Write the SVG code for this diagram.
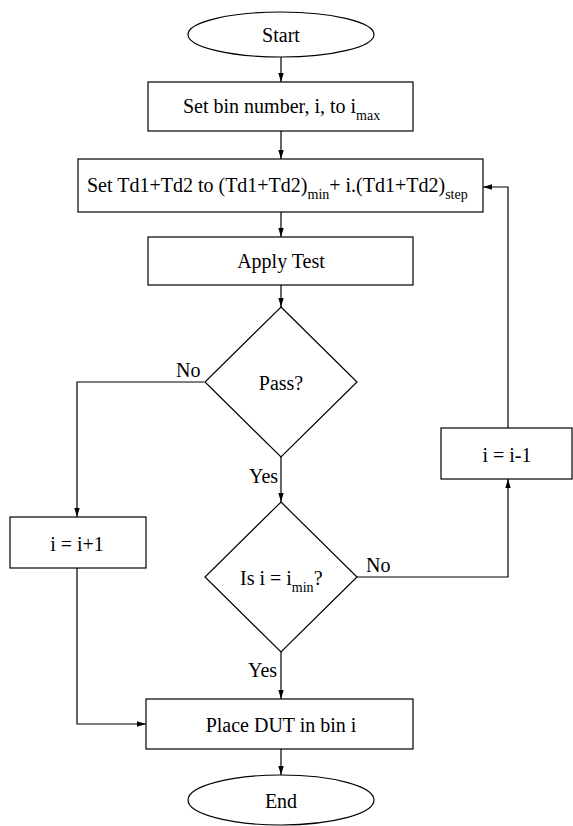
<svg xmlns="http://www.w3.org/2000/svg" width="573" height="826" viewBox="0 0 573 826">
<style>
.s{fill:#fff;stroke:#000;stroke-width:1.2}
.c{fill:none;stroke:#000;stroke-width:1.2}
text{font-family:"Liberation Serif","Times New Roman",serif;font-size:20px;fill:#000}
.m{text-anchor:middle}
.sub{font-size:14px}
</style>
<defs>
<marker id="a" viewBox="0 0 10 10" refX="10" refY="5" markerWidth="9" markerHeight="9" markerUnits="userSpaceOnUse" orient="auto">
<path d="M0,2 L10,5 L0,8 z" fill="#000"/>
</marker>
</defs>
<g id="connectors">
<path class="c" d="M281,57 V82" marker-end="url(#a)"/>
<path class="c" d="M281,131 V159" marker-end="url(#a)"/>
<path class="c" d="M281,212 V237" marker-end="url(#a)"/>
<path class="c" d="M281,285 V307" marker-end="url(#a)"/>
<path class="c" d="M281,457 V502" marker-end="url(#a)"/>
<path class="c" d="M204,382 H77 V517" marker-end="url(#a)"/>
<path class="c" d="M77,568 V724 H146" marker-end="url(#a)"/>
<path class="c" d="M281,652 V699" marker-end="url(#a)"/>
<path class="c" d="M281,749 V775" marker-end="url(#a)"/>
<path class="c" d="M357,577 H508 V479" marker-end="url(#a)"/>
<path class="c" d="M508,428 V187 H483" marker-end="url(#a)"/>
<text x="176" y="377">No</text>
<text x="249" y="483">Yes</text>
<text x="366" y="572">No</text>
<text x="248" y="677">Yes</text>
</g>
<g id="start">
<ellipse class="s" cx="281" cy="34.5" rx="93" ry="22.5"/>
<text class="m" x="281" y="42">Start</text>
</g>
<g id="setbin">
<rect class="s" x="148" y="82" width="265" height="49"/>
<text x="183" y="113">Set bin number, i, to i<tspan class="sub" dy="7">max</tspan></text>
</g>
<g id="settd">
<rect class="s" x="78" y="159" width="405" height="53"/>
<text x="87" y="192">Set Td1+Td2 to (Td1+Td2)<tspan class="sub" dy="7">min</tspan><tspan dy="-7">+ i.(Td1+Td2)</tspan><tspan class="sub" dy="7">step</tspan></text>
</g>
<g id="apply">
<rect class="s" x="148" y="237" width="265" height="48"/>
<text class="m" x="281" y="268">Apply Test</text>
</g>
<g id="pass">
<path class="s" d="M281,307 L357,382 L281,457 L205,382 z"/>
<text class="m" x="281" y="390">Pass?</text>
</g>
<g id="ismin">
<path class="s" d="M281,502 L357,577 L281,652 L205,577 z"/>
<text x="240" y="585">Is i = i<tspan class="sub" dy="7">min</tspan><tspan dy="-7">?</tspan></text>
</g>
<g id="inc">
<rect class="s" x="10" y="517" width="136" height="51"/>
<text class="m" x="77" y="551">i = i+1</text>
</g>
<g id="dec">
<rect class="s" x="441" y="428" width="131" height="51"/>
<text class="m" x="507" y="462">i = i-1</text>
</g>
<g id="place">
<rect class="s" x="146" y="699" width="267" height="50"/>
<text class="m" x="281" y="732">Place DUT in bin i</text>
</g>
<g id="end">
<ellipse class="s" cx="281" cy="800" rx="93" ry="25"/>
<text class="m" x="281" y="808">End</text>
</g>
</svg>
